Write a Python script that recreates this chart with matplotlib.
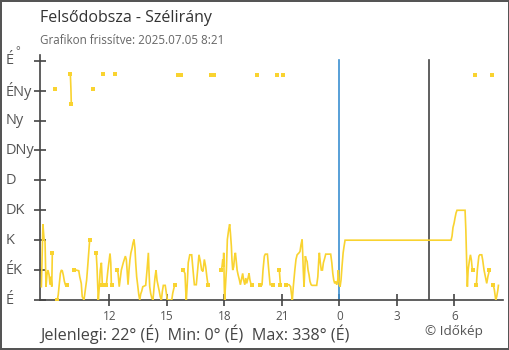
import matplotlib
matplotlib.use("Agg")
import matplotlib.pyplot as plt
import numpy as np

# szélirány mérések: idő (óra, 07.04 00:00-tól) és irány (fok)
ido = [
    8.46, 8.54, 8.60, 8.65, 8.70, 8.75, 8.80, 8.86, 8.91, 8.96, 9.00, 9.03,
    9.19,
    9.29, 9.34, 9.39, 9.45, 9.50, 9.55, 9.60, 9.66, 9.71, 9.81,
    9.97, 10.00, 10.02,
    10.16, 10.28, 10.41, 10.46, 10.54, 10.59, 10.68, 10.75, 10.82, 10.89, 10.98, 11.01,
    11.17,
    11.32, 11.36, 11.40, 11.43, 11.48, 11.53, 11.59, 11.64,
    11.69,
    11.85, 11.93, 12.04, 12.08, 12.11, 12.14,
    12.32,
    12.42, 12.46, 12.52, 12.63, 12.73, 12.84, 12.89, 12.93, 12.98, 13.03, 13.08,
    13.13, 13.19, 13.24, 13.29, 13.34, 13.38, 13.43, 13.48, 13.54, 13.59, 13.64,
    13.69, 13.75, 13.90, 13.97, 14.04, 14.07, 14.11, 14.16, 14.22, 14.28, 14.34,
    14.39, 14.44, 14.49, 14.56, 14.61, 14.66, 14.72, 14.77, 14.82, 14.92, 14.98,
    15.03, 15.26, 15.31, 15.39, 15.43,
    15.56, 15.72,
    15.86, 15.95, 15.99, 16.02, 16.07, 16.12, 16.20, 16.30, 16.37, 16.44, 16.54,
    16.61, 16.68, 16.75, 16.82, 16.89, 16.96, 17.03, 17.10, 17.15,
    17.31, 17.47,
    17.85, 17.88, 17.92, 17.95, 17.97, 18.00, 18.02, 18.05, 18.11, 18.16, 18.23,
    18.28, 18.32, 18.37, 18.40, 18.44, 18.49, 18.54, 18.58, 18.61, 18.67, 18.72,
    18.79, 18.84, 18.89, 18.96, 19.01, 19.07, 19.12, 19.17, 19.24, 19.29, 19.34,
    19.40, 19.45,
    19.73,
    19.88, 19.97, 20.02, 20.09, 20.14, 20.25, 20.32, 20.39, 20.54,
    20.73,
    20.87, 20.93,
    21.04,
    21.21, 21.38, 21.46, 21.50, 21.55, 21.60, 21.68, 21.74, 21.80, 21.90, 21.95,
    22.00, 22.06, 22.09, 22.12, 22.16, 22.20, 22.23, 22.27, 22.32, 22.37, 22.42,
    22.47, 22.53, 22.58, 22.82, 22.88, 22.93, 22.96, 23.01, 23.06, 23.12, 23.17,
    23.24, 23.29, 23.55, 23.61, 23.66, 23.71, 23.76, 23.81, 23.87, 23.92, 23.95,
    24.00, 24.04, 24.09, 24.14, 24.20, 24.25, 24.30, 29.83, 29.88, 29.93, 29.99,
    30.04, 30.09, 30.14, 30.56, 30.60, 30.65, 30.68, 30.72, 30.79, 30.84, 30.89,
    30.94, 30.99,
    31.06,
    31.15, 31.20, 31.28, 31.33, 31.43, 31.48, 31.55, 31.62, 31.69, 31.75, 31.83,
    31.94,
    32.04, 32.09, 32.16, 32.21, 32.27, 32.30,
]
irany = [
    20, 114, 91, 88, 20, 38, 45, 38, 23, 35, 20, 70,
    318,
    0, 8, 23, 40, 45, 44, 38, 28, 23, 23,
    340, 318, 295,
    45, 45, 44, 35, 25, 5, 0, 15, 30, 56, 91, 91,
    318,
    70, 50, 20, 0, 20, 45, 56, 23,
    340,
    23, 45, 70, 56, 23, 23,
    340,
    45, 40, 20, 45, 56, 66, 61, 45, 23, 45, 61,
    71, 78, 86, 91, 78, 56, 35, 23, 8, 0, 9,
    13, 20, 22, 45, 71, 45, 20, 10, 3, 0, 20,
    35, 45, 30, 20, 13, 5, 0, 13, 22, 22, 10,
    0, 0, 10, 20, 23,
    338, 338,
    45, 40, 13, 0, 25, 56, 68, 68, 45, 23, 23,
    45, 68, 58, 45, 43, 61, 50, 33, 23,
    338, 338,
    45, 50, 61, 50, 71, 20, 0, 15, 45, 91, 106,
    114, 101, 81, 61, 45, 50, 66, 71, 63, 45, 38,
    30, 23, 30, 40, 30, 23, 33, 25, 33, 40, 30,
    23, 23,
    338,
    23, 23, 45, 66, 69, 69, 45, 23, 23,
    338,
    45, 23,
    338,
    23, 23, 20, 10, 0, 20, 45, 61, 68, 71, 73,
    83, 91, 71, 45, 20, 45, 66, 61, 58, 45, 38,
    28, 23, 22, 22, 35, 61, 71, 56, 45, 45, 56,
    63, 69, 69, 56, 40, 30, 25, 28, 23, 30, 45,
    23, 20, 30, 50, 71, 81, 90, 90, 96, 109, 116,
    124, 131, 135, 135, 106, 50, 20, 45, 60, 68, 60,
    45, 45,
    338,
    22, 45, 66, 68, 68, 60, 45, 35, 25, 35, 45,
    338,
    22, 15, 0, 5, 15, 22,
]

irany_fok = [0, 45, 90, 135, 180, 225, 270, 315, 360]
irany_nevek = ["É", "ÉK", "K", "DK", "D", "DNy", "Ny", "ÉNy", "É"]
ora_tickek = [12, 15, 18, 21, 24, 27, 30]
ejfel = 24
jelolo = 28.69

SARGA = "#f9d330"
KEK = "#3b8fd1"
TENGELY = "#444444"
FELIRAT = "#555555"

plt.rcParams["font.family"] = ["Open Sans", "DejaVu Sans"]

fig = plt.figure(figsize=(5.1, 3.5), dpi=100, edgecolor="#555555", linewidth=1.5)
ax = fig.add_axes([40.3 / 510, 50 / 350, 462.7 / 510, 245 / 350])

t = np.array(ido)
d = np.array(irany, dtype=float)

# északi átfordulásnál megszakítjuk a vonalat
szakadas = np.where(np.abs(np.diff(d)) > 180)[0] + 1
t_szak = np.split(t, szakadas)
d_szak = np.split(d, szakadas)
n = len(t_szak)
for k, (ts, ds) in enumerate(zip(t_szak, d_szak)):
    ax.plot(ts, ds, color=SARGA, lw=1.2, solid_joinstyle="miter", zorder=3)
    if k > 0:
        ax.plot(ts[0], ds[0], "s", color=SARGA, ms=2.6, mew=0, zorder=3)
    if k < n - 1:
        ax.plot(ts[-1], ds[-1], "s", color=SARGA, ms=2.6, mew=0, zorder=3)

ax.axvline(ejfel, ymax=0.98, color=KEK, lw=1.2, zorder=2)
ax.axvline(jelolo, ymax=0.98, color=TENGELY, lw=1.2, zorder=2)

ax.set_xlim(8.403, 32.539)
ax.set_ylim(0, 368.6)

ax.set_yticks(irany_fok)
ax.set_yticklabels([])
ax.set_xticks(ora_tickek)
ax.set_xticklabels([str(h % 24) for h in ora_tickek])

# iránynevek balra igazítva a tengely mellett
for fok, nev in zip(irany_fok, irany_nevek):
    ax.text(-34.3 / 462.7, fok, nev, transform=ax.get_yaxis_transform(),
            fontsize=10.5, color=FELIRAT, ha="left", va="center")

for s in ["top", "right"]:
    ax.spines[s].set_visible(False)
for s in ["left", "bottom"]:
    ax.spines[s].set_color(TENGELY)
    ax.spines[s].set_linewidth(1.2)

ax.tick_params(axis="y", direction="inout", length=9, width=1.2, color=TENGELY)
ax.tick_params(axis="x", direction="inout", length=9, width=1.2, color=TENGELY,
               labelsize=8.5, labelcolor=FELIRAT, pad=3)
ax.get_xticklines()[8].set_color(KEK)

# mértékegység a felső É mellett
fig.text(18 / 510, 1 - 54 / 350, "°", fontsize=8, color=FELIRAT,
         ha="center", va="baseline")

fig.text(40 / 510, 1 - 18 / 350, "Felsődobsza - Szélirány", fontsize=11.5,
         color="#333333", va="center", ha="left")
fig.text(40 / 510, 1 - 41 / 350, "Grafikon frissítve: 2025.07.05 8:21", fontsize=8.4,
         color="#666666", va="center", ha="left")
fig.text(40 / 510, 1 - 334 / 350, "Jelenlegi: 22° (É)  Min: 0° (É)  Max: 338° (É)",
         fontsize=11.6, color="#444444", va="center", ha="left")
fig.text(425 / 510, 1 - 332 / 350, "© Időkép", fontsize=9.7, color=FELIRAT,
         va="center", ha="left")

fig.savefig("out.png", dpi=100)
